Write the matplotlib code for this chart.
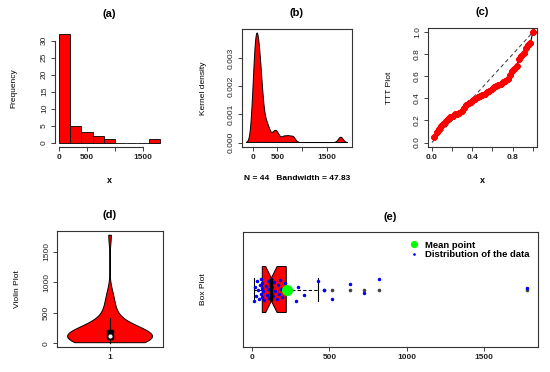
import matplotlib
matplotlib.use('Agg')
import matplotlib.pyplot as plt
import numpy as np

plt.rcParams['font.family'] = ['Liberation Sans', 'DejaVu Sans']
plt.rcParams['font.size'] = 6

values = np.array([
    12, 22, 28, 35, 40, 46, 50, 55, 58, 62, 63, 67,
    72, 80, 88, 95, 100, 105, 110, 116, 120, 122, 128,
    135, 142, 150, 158, 165, 172, 180, 188, 195,
    212, 248, 284, 300, 338,
    425, 465, 517, 630, 722, 817, 1775,
], dtype=float)
hist_breaks = [0, 200, 400, 600, 800, 1000, 1200, 1400, 1600, 1800]
bandwidth = 47.83
panel_titles = ['(a)', '(b)', '(c)', '(d)', '(e)']

n = len(values)
RED = '#FF0000'


def r_style(ax, box=True):
    for s in ax.spines.values():
        s.set_linewidth(0.8)
        s.set_color('#333333')
        s.set_visible(box)
    ax.tick_params(direction='out', length=3, width=0.6, pad=2,
                   colors='#222222', labelsize=6)
    for lab in ax.get_yticklabels():
        lab.set_rotation(90)
        lab.set_va('center')
    for lab in ax.get_xticklabels():
        lab.set_fontweight('bold')


def pad(lo, hi):
    d = (hi - lo) * 0.04
    return lo - d, hi + d


fig = plt.figure(figsize=(5.5, 3.72), dpi=100)

# (a) histogram
ax_a = fig.add_axes([0.100, 0.605, 0.198, 0.316])
counts, _ = np.histogram(values, bins=hist_breaks)
ax_a.bar(hist_breaks[:-1], counts, width=200, align='edge', color=RED,
         edgecolor='black', linewidth=0.6)
ax_a.set_xlim(*pad(0, 1800))
ax_a.set_ylim(*pad(0, counts.max()))
ax_a.set_xticks([0, 500, 1000, 1500], ['0', '500', '', '1500'])
ax_a.set_yticks(range(0, 31, 5))
r_style(ax_a, box=False)
ax_a.spines['left'].set_visible(True)
ax_a.spines['bottom'].set_visible(True)
ax_a.spines['left'].set_bounds(0, 30)
ax_a.spines['bottom'].set_bounds(0, 1500)
ax_a.set_ylabel('Frequency', labelpad=17)
ax_a.set_xlabel('x', labelpad=11, fontweight='bold', fontsize=6.5)

# (b) kernel density
ax_b = fig.add_axes([0.440, 0.605, 0.200, 0.318])
grid = np.linspace(values.min() - 3 * bandwidth, values.max() + 3 * bandwidth, 512)
dens = np.exp(-0.5 * ((grid[:, None] - values[None, :]) / bandwidth) ** 2).sum(axis=1)
dens /= n * bandwidth * np.sqrt(2 * np.pi)
ax_b.fill(grid, dens, facecolor=RED, edgecolor='black', linewidth=0.7)
ax_b.set_xlim(*pad(grid.min(), grid.max()))
ax_b.set_ylim(*pad(0, dens.max()))
ax_b.set_xticks([0, 500, 1000, 1500], ['0', '500', '', '1500'])
ax_b.set_yticks([0, 0.001, 0.002, 0.003], ['0.000', '0.001', '0.002', '0.003'])
r_style(ax_b)
ax_b.set_ylabel('Kernel density', labelpad=15)
ax_b.set_xlabel('N = %d   Bandwidth = %.2f' % (n, bandwidth), labelpad=10,
                fontweight='bold')

# (c) TTT plot
ax_c = fig.add_axes([0.778, 0.605, 0.198, 0.320])
xs = np.sort(values)
cum = np.cumsum(xs)
idx = np.arange(1, n + 1)
ttt = (cum + (n - idx) * xs) / xs.sum()
ax_c.plot([0, 1], [0, 1], color='#333333', linestyle=(0, (4, 3)), linewidth=0.7)
ax_c.plot(idx / n, ttt, color='black', linewidth=0.8,
          marker=(8, 2, 0), markersize=4.5, markeredgecolor=RED,
          markeredgewidth=1.5)
ax_c.set_xlim(*pad(0, 1))
ax_c.set_ylim(*pad(0, 1))
ax_c.set_xticks([0, 0.2, 0.4, 0.6, 0.8, 1.0], ['0.0', '', '0.4', '', '0.8', ''])
ax_c.set_yticks([0, 0.2, 0.4, 0.6, 0.8, 1.0])
r_style(ax_c)
ax_c.set_ylabel('TTT Plot', labelpad=15)
ax_c.set_xlabel('x', labelpad=11, fontweight='bold', fontsize=6.5)

# (d) violin plot
ax_d = fig.add_axes([0.1036, 0.0672, 0.193, 0.312])
h = values.std(ddof=1) * (4 / (3 * n)) ** 0.2
vgrid = np.linspace(values.min(), values.max(), 400)
vd = np.exp(-0.5 * ((vgrid[:, None] - values[None, :]) / h) ** 2).sum(axis=1)
vd = vd / vd.max() * 0.4
ax_d.fill(np.concatenate([1 - vd, (1 + vd)[::-1]]),
          np.concatenate([vgrid, vgrid[::-1]]),
          facecolor=RED, edgecolor='black', linewidth=0.7)
q1, med, q3 = np.percentile(values, [25, 50, 75])
upper_adj = values[values <= q3 + 1.5 * (q3 - q1)].max()
ax_d.plot([1, 1], [values.min(), upper_adj], color='black', linewidth=0.8)
ax_d.add_patch(plt.Rectangle((0.972, q1), 0.056, q3 - q1, color='black'))
ax_d.plot([1], [med], 'o', color='white', markersize=2)
ax_d.set_xlim(0.5, 1.5)
ax_d.set_ylim(*pad(values.min(), values.max()))
ax_d.set_xticks([1])
ax_d.set_yticks([0, 500, 1000, 1500])
r_style(ax_d)
ax_d.set_ylabel('Violin Plot', labelpad=16)

# (e) box plot with data points and mean
ax_e = fig.add_axes([0.4418, 0.0672, 0.536, 0.309])
ax_e.boxplot(values, vert=False, notch=True, patch_artist=True, widths=0.4,
             capwidths=0.2,
             boxprops=dict(facecolor=RED, edgecolor='black', linewidth=0.7),
             medianprops=dict(color='black', linewidth=2.5),
             whiskerprops=dict(color='black', linestyle=(0, (3, 2)), linewidth=0.8),
             capprops=dict(color='black', linewidth=0.8),
             flierprops=dict(marker='o', markersize=1.6, markerfacecolor='#444444',
                             markeredgecolor='#444444'))
jitter = ((np.arange(n) * 0.618034) % 1 - 0.5) * 0.2
ax_e.plot(values, 1 + jitter, 'o', color='blue', markersize=1.5,
          label='Distribution of the data')
ax_e.plot([values.mean()], [1], 'o', color='#00FF00', markersize=7,
          label='Mean point')
handles, labels = ax_e.get_legend_handles_labels()
ax_e.legend(handles[::-1], labels[::-1], loc='upper right', frameon=False,
            handlelength=1, handletextpad=0.6, labelspacing=0.05,
            borderaxespad=0.5, markerscale=0.6, prop={'weight': 'bold', 'size': 6.8})
ax_e.set_xlim(*pad(values.min(), values.max()))
ax_e.set_ylim(0.5, 1.5)
ax_e.set_xticks([0, 500, 1000, 1500])
ax_e.set_yticks([])
r_style(ax_e)
ax_e.set_ylabel('Box Plot', labelpad=26)

for ax, t in zip([ax_a, ax_b, ax_c, ax_d, ax_e], panel_titles):
    ax.set_title(t, fontsize=8, fontweight='bold', pad=9)

fig.savefig('out.png', dpi=100)
